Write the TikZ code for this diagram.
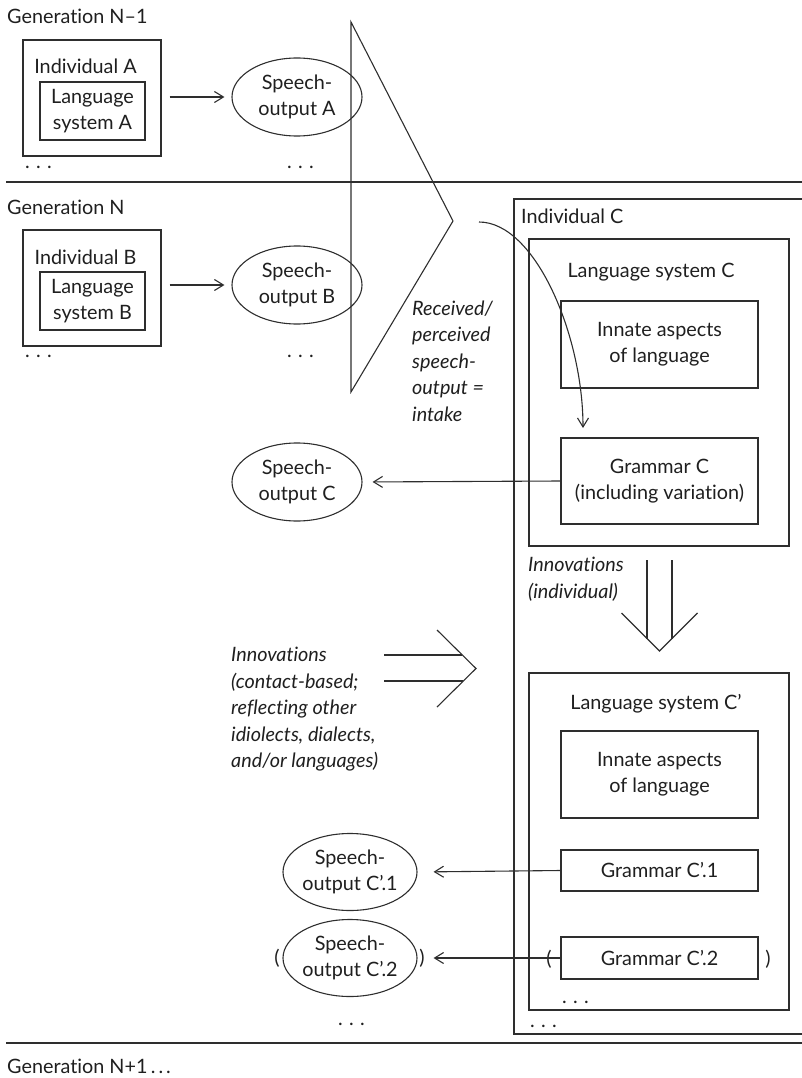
\documentclass[tikz,border=0pt]{standalone}
\usepackage{fontspec}
\setmainfont{Lato}[Ligatures=NoCommon]
\usetikzlibrary{arrows.meta,shapes.geometric}
\newcommand\threedots{.\hspace{0.32em}.\hspace{0.32em}.}
\begin{document}
\begin{tikzpicture}[x=1pt,y=-1pt,
  every node/.style={font=\fontsize{19.8}{26}\selectfont, text=black!88},
  txt/.style={inner sep=0pt, align=center},
  itx/.style={inner sep=0pt, align=left, font=\fontsize{19.8}{26.5}\selectfont\itshape},
  frame/.style={draw=black!82, line width=1.1pt, rectangle, inner sep=0pt, align=center},
  speech/.style={draw=black!82, line width=1.1pt, ellipse, inner sep=0pt, minimum width=130pt, minimum height=78pt},
  conn/.style={draw=black!82, line width=1.1pt},
  arr/.style={conn, -{Straight Barb[length=9pt,width=11pt]}},
]
\useasboundingbox (0,0) rectangle (802,1078);

% ---------- Generation N-1 ----------
\node[anchor=base west, txt] (g1) at (7,24) {Generation N–1};
\node[frame, minimum width=138pt, minimum height=116pt] (indA) at (92,98) {};
\node[anchor=base, txt] (indAl) at (85.5,74) {Individual A};
\node[frame, minimum width=105pt, minimum height=58pt] (lsA) at (92.5,111) {Language\\system A};
\node[speech] (spA) at (297,97) {};
\node[txt] (spAt) at (297,97) {Speech-\\output A};
\node[anchor=base west, txt] (dA1) at (25,168) {\threedots};
\node[anchor=base west, txt] (dA2) at (287,168) {\threedots};
\draw[arr, shorten <=8pt, shorten >=7pt] (indA.east |- spA.west) -- (spA.west);

\coordinate (l1a) at (6,182); \coordinate (l1b) at (802,182);
\draw[conn] (l1a) -- (l1b);

% ---------- funnel ----------
\coordinate (fT) at (351,22); \coordinate (fM) at (453,221); \coordinate (fB) at (351,392);
\draw[conn, line join=miter] (fT) -- (fM) -- (fB) -- cycle;

% ---------- Generation N ----------
\node[anchor=base west, txt] (g2) at (7,214) {Generation N};
\node[frame, minimum width=138pt, minimum height=116pt] (indB) at (92,288) {};
\node[anchor=base, txt] (indBl) at (85.5,264) {Individual B};
\node[frame, minimum width=105pt, minimum height=58pt] (lsB) at (92.5,301) {Language\\system B};
\node[speech] (spB) at (297,285) {};
\node[txt] (spBt) at (297,285) {Speech-\\output B};
\node[anchor=base west, txt] (dB1) at (25,357) {\threedots};
\node[anchor=base west, txt] (dB2) at (287,357) {\threedots};
\draw[arr, shorten <=8pt, shorten >=7pt] (indB.east |- spB.west) -- (spB.west);

% ---------- Individual C ----------
\coordinate (cTR) at (802,199); \coordinate (cTL) at (514,199);
\coordinate (cBL) at (514,1034); \coordinate (cBR) at (802,1034);
\draw[conn] (cTR) -- (cTL) -- (cBL) -- (cBR);
\node[anchor=base west, txt] (indCl) at (521,223) {Individual C};

\node[frame, minimum width=260pt, minimum height=307pt] (lsC) at (659,392.5) {};
\node[anchor=base, txt] (lsCl) at (651,277) {Language system C};
\node[frame, minimum width=197pt, minimum height=87pt] (innC) at (659.5,344.5) {Innate aspects\\of language};
\node[frame, minimum width=197pt, minimum height=86pt] (gramC) at (659.5,481) {Grammar C\\(including variation)};
\node[speech] (spC) at (297,482) {};
\node[txt] (spCt) at (297,482) {Speech-\\output C};
\draw[arr, shorten >=10pt] (gramC.west) -- (spC.east);

\coordinate (rcv) at (479,222); \coordinate (rcvEnd) at (583,428);
\draw[arr] (rcv) .. controls (535,222) and (583,335) .. (rcvEnd);
\node[itx, anchor=north west] (rt) at (412,300.5) {Received/\\perceived\\speech-\\output =\\intake};

% ---------- innovations (individual) ----------
\node[itx, anchor=north west] (inv1) at (528,557) {Innovations\\(individual)};
\coordinate (dL1) at (647,560); \coordinate (dL2) at (647,638.5);
\coordinate (dR1) at (672,560); \coordinate (dR2) at (672,638.5);
\coordinate (dA) at (621.5,613); \coordinate (dTip) at (659.5,651); \coordinate (dB) at (697.5,613);
\draw[conn] (dL1) -- (dL2);
\draw[conn] (dR1) -- (dR2);
\draw[conn, line join=miter] (dA) -- (dTip) -- (dB);

% ---------- innovations (contact-based) ----------
\node[itx, anchor=north west] (inv2) at (231,647) {Innovations\\(contact-based;\\reflecting other\\idiolects, dialects,\\and/or languages)};
\coordinate (hU1) at (384,655); \coordinate (hU2) at (462,655);
\coordinate (hL1) at (384,681); \coordinate (hL2) at (463,681);
\coordinate (hA) at (437,630); \coordinate (hTip) at (476,668.5); \coordinate (hB) at (437,707);
\draw[conn] (hU1) -- (hU2);
\draw[conn] (hL1) -- (hL2);
\draw[conn, line join=miter] (hA) -- (hTip) -- (hB);

% ---------- Language system C' ----------
\node[frame, minimum width=260pt, minimum height=337pt] (lsC2) at (659,841.5) {};
\node[anchor=base, txt] (lsC2l) at (656,709) {Language system C’};
\node[frame, minimum width=197pt, minimum height=87pt] (innC2) at (659.5,774.5) {Innate aspects\\of language};
\node[frame, minimum width=197pt, minimum height=41pt] (gr1) at (659.5,870.5) {Grammar C’.1};
\node[frame, minimum width=197pt, minimum height=42pt] (gr2) at (659.5,958) {Grammar C’.2};
\node[txt] (p1) at (549,959) {(};
\node[txt] (p2) at (768,959) {)};
\node[anchor=base west, txt] (dC1) at (562,1003) {\threedots};
\node[anchor=base west, txt] (dC2) at (530,1027) {\threedots};

\node[speech, minimum width=134pt, minimum height=77pt] (sp1) at (350,872) {};
\node[txt] (sp1t) at (350,872) {Speech-\\output C’.1};
\node[speech, minimum width=134pt, minimum height=77pt] (sp2) at (350,958) {};
\node[txt] (sp2t) at (350,958) {Speech-\\output C’.2};
\node[txt] (p3) at (277,958) {(};
\node[txt] (p4) at (422,958) {)};
\node[anchor=base west, txt] (dS) at (338,1025) {\threedots};
\draw[arr, shorten >=16pt] (gr1.west) -- (sp1.east);
\draw[arr, shorten >=16pt] (gr2.west) -- (sp2.east);

% ---------- Generation N+1 ----------
\coordinate (l2a) at (6,1043); \coordinate (l2b) at (802,1043);
\draw[conn] (l2a) -- (l2b);
\node[anchor=base west, txt] (g3) at (7,1073) {Generation N+1\,.\hspace{0.15em}.\hspace{0.15em}.};
\end{tikzpicture}
\end{document}
